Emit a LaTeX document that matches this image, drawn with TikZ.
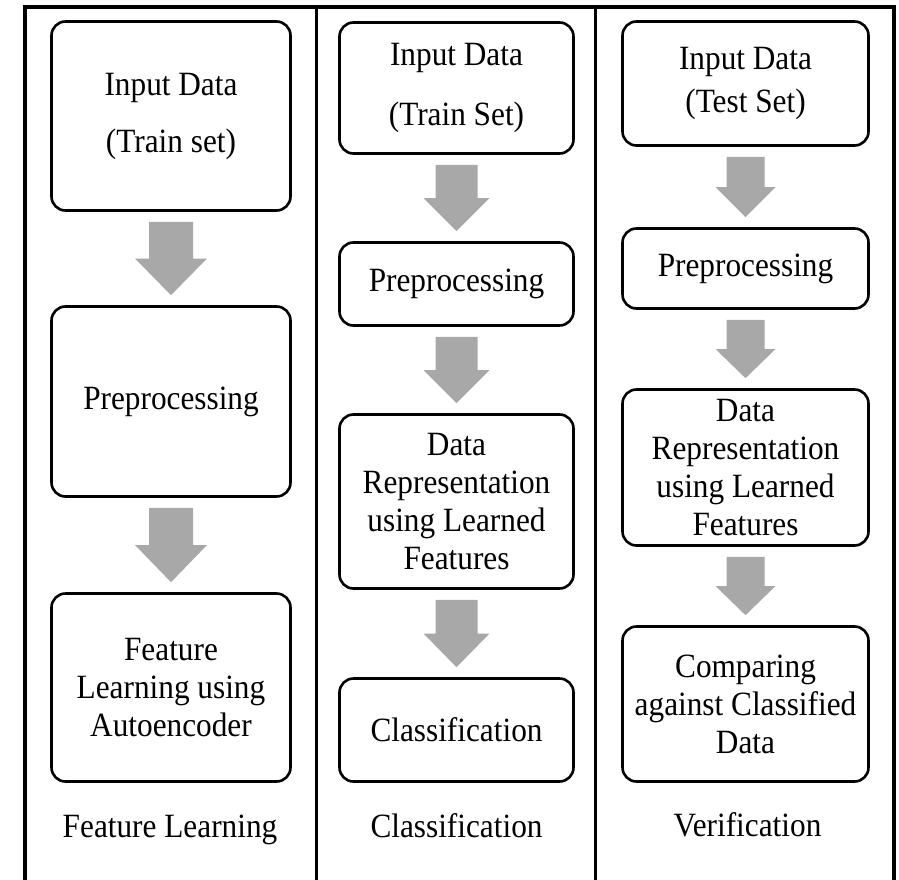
\documentclass[tikz,border=0pt]{standalone}
\usepackage{fontspec}
\setmainfont{Liberation Serif}[FakeStretch=0.92]
\usetikzlibrary{calc}
\definecolor{arrowgray}{HTML}{A8A8A8}
\tikzset{
  stepbox/.style={draw=black, line width=2.6pt, rounded corners=14pt, align=center,
    inner sep=0pt, font=\fontsize{34}{38}\selectfont},
  lbl/.style={font=\fontsize{34}{38}\selectfont, inner sep=0pt, anchor=base},
  frameline/.style={line width=4pt},
  divider/.style={line width=3pt},
  garrow/.style={fill=arrowgray}
}
\newcommand\blkarrow[4]{%
  \path ($(#1.south)+(0,10)$) coordinate (t)
        ($(#2.north)+(0,-10)$) coordinate (b)
        ($(t)!0.5!(b)$) coordinate (m);
  \fill[garrow] ($(t)+(-#3,0)$) -- ($(t)+(#3,0)$) -- ($(m)+(#3,0)$) -- ($(m)+(#4,0)$)
     -- (b) -- ($(m)+(-#4,0)$) -- ($(m)+(-#3,0)$) -- cycle;}
\begin{document}
\begin{tikzpicture}[x=1pt,y=-1pt]
\useasboundingbox (0,0) rectangle (899,880);
% frame
\draw[frameline] (24.5,880) -- (24.5,7) -- (894,7) -- (894,880);
\draw[divider] (316.5,7) -- (316.5,880);
\draw[divider] (595.5,7) -- (595.5,880);
% left column
\node[stepbox, minimum width=239, minimum height=189] (L1) at (171,116) {Input Data\\[19pt](Train set)};
\node[stepbox, minimum width=239, minimum height=190] (L2) at (171,401.5) {Preprocessing};
\node[stepbox, minimum width=239, minimum height=188] (L3) at (171,687.5) {Feature\\Learning using\\Autoencoder};
\node[lbl] (LL) at (170,837) {Feature Learning};
\blkarrow{L1}{L2}{22}{36}
\blkarrow{L2}{L3}{22}{36}
% middle column
\node[stepbox, minimum width=234, minimum height=131] (M1) at (456.5,88) {Input Data\\[22pt](Train Set)};
\node[stepbox, minimum width=234, minimum height=83] (M2) at (456.5,284) {Preprocessing};
\node[stepbox, minimum width=234, minimum height=174] (M3) at (456.5,501.5) {Data\\Representation\\using Learned\\Features};
\node[stepbox, minimum width=234, minimum height=103] (M4) at (456.5,730) {Classification};
\node[lbl] (ML) at (456.5,837) {Classification};
\blkarrow{M1}{M2}{21}{33}
\blkarrow{M2}{M3}{21}{33}
\blkarrow{M3}{M4}{21}{33}
% right column
\node[stepbox, minimum width=246, minimum height=124] (R1) at (745.5,83.5) {Input Data\\[5pt](Test Set)};
\node[stepbox, minimum width=246, minimum height=80] (R2) at (745.5,268.5) {Preprocessing};
\node[stepbox, minimum width=246, minimum height=156] (R3) at (745.5,467.5) {Data\\Representation\\using Learned\\Features};
\node[stepbox, minimum width=246, minimum height=155] (R4) at (745.5,704) {Comparing\\against Classified\\Data};
\node[lbl] (RL) at (747.5,836) {Verification};
\blkarrow{R1}{R2}{19}{30}
\blkarrow{R2}{R3}{19}{30}
\blkarrow{R3}{R4}{19}{30}
\end{tikzpicture}
\end{document}
